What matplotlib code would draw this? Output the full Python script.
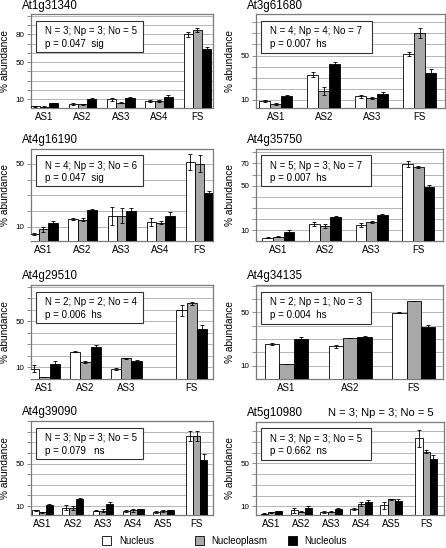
import numpy as np
import matplotlib
matplotlib.use('Agg')
import matplotlib.pyplot as plt
from matplotlib.patches import Rectangle

plt.rcParams['font.family'] = ['Liberation Sans', 'DejaVu Sans']

# ---------------- data ----------------
p1_title = 'At1g31340'
p1_cats = ['AS1', 'AS2', 'AS3', 'AS4', 'FS']
p1_nucleus = [2.4, 4.6, 9.7, 8.2, 80.0]
p1_nucleus_err = [0.6, 0.8, 1.2, 1.2, 3.0]
p1_nucleoplasm = [1.7, 4.3, 6.4, 7.8, 84.3]
p1_nucleoplasm_err = [0.4, 0.8, 0.6, 0.8, 2.2]
p1_nucleolus = [5.7, 10.0, 11.8, 12.2, 64.0]
p1_nucleolus_err = [0.5, 0.8, 1.0, 1.8, 2.5]
p1_stats = 'N = 3; Np = 3; No = 5'
p1_p = 'p = 0.047  sig'
p1_ylabels = ['10', '50', '80']

p2_title = 'At3g61680'
p2_cats = ['AS1', 'AS2', 'AS3', 'FS']
p2_nucleus = [8.5, 32.6, 13.0, 51.5]
p2_nucleus_err = [0.8, 2.4, 1.0, 1.5]
p2_nucleoplasm = [6.1, 17.5, 11.5, 70.2]
p2_nucleoplasm_err = [0.6, 3.6, 1.2, 4.5]
p2_nucleolus = [13.6, 42.2, 15.1, 34.6]
p2_nucleolus_err = [0.8, 2.0, 1.5, 3.0]
p2_stats = 'N = 4; Np = 4; No = 7'
p2_p = 'p = 0.007  hs'
p2_ylabels = ['10', '50']

p3_title = 'At4g16190'
p3_cats = ['AS1', 'AS2', 'AS3', 'AS4', 'FS']
p3_nucleus = [5.3, 14.9, 16.9, 12.8, 51.3]
p3_nucleus_err = [0.7, 0.7, 5.6, 2.5, 5.0]
p3_nucleoplasm = [8.3, 14.5, 16.9, 12.4, 50.0]
p3_nucleoplasm_err = [1.5, 0.7, 4.8, 1.0, 5.5]
p3_nucleolus = [12.2, 20.7, 20.0, 17.0, 31.4]
p3_nucleolus_err = [1.5, 0.7, 2.0, 2.0, 1.5]
p3_stats = 'N = 4; Np = 3; No = 6'
p3_p = 'p = 0.047  sig'
p3_ylabels = ['10', '50']

p4_title = 'At4g35750'
p4_cats = ['AS1', 'AS2', 'AS3', 'FS']
p4_nucleus = [3.1, 15.4, 14.5, 69.4]
p4_nucleus_err = [0.3, 1.5, 2.0, 3.0]
p4_nucleoplasm = [4.0, 13.6, 17.5, 67.0]
p4_nucleoplasm_err = [0.3, 1.5, 1.0, 1.0]
p4_nucleolus = [8.5, 21.7, 23.2, 48.7]
p4_nucleolus_err = [1.5, 0.5, 1.0, 2.0]
p4_stats = 'N = 5; Np = 3; No = 7'
p4_p = 'p = 0.007  hs'
p4_ylabels = ['10', '50', '70']

p5_title = 'At4g29510'
p5_cats = ['AS1', 'AS2', 'AS3', 'FS']
p5_nucleus = [8.6, 23.2, 8.0, 59.7]
p5_nucleus_err = [2.9, 0.5, 1.0, 4.8]
p5_nucleoplasm = [1.2, 14.7, 17.6, 65.6]
p5_nucleoplasm_err = [0.3, 1.0, 0.5, 1.5]
p5_nucleolus = [12.6, 27.5, 15.3, 43.1]
p5_nucleolus_err = [2.5, 2.0, 0.5, 3.5]
p5_stats = 'N = 2; Np = 2; No = 4'
p5_p = 'p = 0.006  hs'
p5_ylabels = ['10', '50']

p6_title = 'At4g34135'
p6_cats = ['AS1', 'AS2', 'FS']
p6_nucleus = [26.2, 24.4, 49.8]
p6_nucleus_err = [0.5, 1.0, 0.3]
p6_nucleoplasm = [11.0, 30.7, 58.5]
p6_nucleoplasm_err = [0.0, 0.0, 0.0]
p6_nucleolus = [29.9, 31.6, 39.1]
p6_nucleolus_err = [1.5, 0.5, 1.0]
p6_stats = 'N = 2; Np = 1; No = 3'
p6_p = 'p = 0.004  hs'
p6_ylabels = ['10', '50']

p7_title = 'At4g39090'
p7_cats = ['AS1', 'AS2', 'AS3', 'AS4', 'AS5', 'FS']
p7_nucleus = [6.0, 8.4, 5.6, 5.3, 4.4, 75.9]
p7_nucleus_err = [0.6, 2.5, 0.5, 0.8, 0.5, 5.0]
p7_nucleoplasm = [4.1, 8.4, 5.6, 6.0, 5.0, 75.9]
p7_nucleoplasm_err = [0.3, 2.0, 1.2, 1.2, 1.0, 5.0]
p7_nucleolus = [10.9, 16.3, 11.9, 7.2, 6.0, 53.1]
p7_nucleolus_err = [0.8, 1.0, 2.0, 0.5, 0.5, 5.5]
p7_stats = 'N = 3; Np = 3; No = 5'
p7_p = 'p = 0.079   ns'
p7_ylabels = ['10', '50']

p8_title = 'At5g10980'
p8_cats = ['AS1', 'AS2', 'AS3', 'AS4', 'AS5', 'FS']
p8_nucleus = [3.2, 6.3, 5.0, 7.5, 10.9, 73.4]
p8_nucleus_err = [0.3, 2.0, 0.8, 1.0, 3.5, 7.8]
p8_nucleoplasm = [4.4, 5.0, 5.0, 12.5, 16.6, 60.9]
p8_nucleoplasm_err = [0.5, 0.3, 0.3, 2.0, 0.5, 1.5]
p8_nucleolus = [5.6, 8.4, 7.5, 14.0, 15.0, 54.0]
p8_nucleolus_err = [0.5, 2.0, 1.0, 2.0, 2.0, 4.0]
p8_stats = 'N = 3; Np = 3; No = 5'
p8_p = 'p = 0.662  ns'
p8_ylabels = ['10', '50']
p8_header = 'N = 3; Np = 3; No = 5'

series_names = ['Nucleus', 'Nucleoplasm', 'Nucleolus']

# ---------------- figure ----------------
W, H = 446, 548
fig = plt.figure(figsize=(W / 100, H / 100), dpi=100)

GRAY = '#a8a8a8'
SPINE = '#7a7a7a'
GRID = '#a9a9a9'


def add_axes_px(x0, y0, x1, y1):
    return fig.add_axes([x0 / W, 1 - y1 / H, (x1 - x0) / W, (y1 - y0) / H])


def draw(ax, cats, nuc, nuc_e, npl, npl_e, nol, nol_e, title, stats, pline,
         ylabels, ylim, xlim, fs_shift=0.0, width=0.24):
    x = np.arange(len(cats), dtype=float)
    x[-1] += fs_shift
    ax.set_xlim(*xlim)
    ax.set_ylim(*ylim)
    for off, vals, errs, col in [(-width, nuc, nuc_e, 'white'),
                                 (0.0, npl, npl_e, GRAY),
                                 (width, nol, nol_e, 'black')]:
        ax.bar(x + off, vals, width, color=col, edgecolor='black',
               linewidth=0.6, zorder=3)
        ax.errorbar(x + off, vals, yerr=errs, fmt='none', ecolor='black',
                    elinewidth=0.6, capsize=1.4, capthick=0.6, zorder=4)
    grid = np.arange(10, ylim[1], 10)
    ax.set_yticks(grid)
    ax.set_yticklabels([str(int(g)) if str(int(g)) in ylabels else ''
                        for g in grid])
    ax.yaxis.grid(True, color=GRID, linewidth=0.6, zorder=0)
    ax.set_axisbelow(True)
    ax.set_xticks(x)
    ax.set_xticklabels(cats, fontsize=7)
    ax.tick_params(axis='x', length=0, pad=3)
    ax.tick_params(axis='y', length=3, width=0.6, color=SPINE,
                   labelsize=5.8, pad=1.5)
    for s in ax.spines.values():
        s.set_color(SPINE)
        s.set_linewidth(0.9)
    ax.set_ylabel('% abundance', fontsize=7.3)
    bb = ax.get_position()
    ax.yaxis.set_label_coords(-21 / (bb.width * W), 0.5)
    ax.text(-9 / (bb.width * W), 1 + 5.5 / (bb.height * H), title,
            transform=ax.transAxes, fontsize=8.3, ha='left', va='baseline')
    ax.add_patch(Rectangle((0.03, 0.59), 0.585, 0.335, transform=ax.transAxes,
                           facecolor='white', edgecolor='#333333',
                           linewidth=0.8, zorder=6))
    ax.text(0.078, 0.815, stats, transform=ax.transAxes, fontsize=7,
            va='center', ha='left', zorder=7)
    ax.text(0.078, 0.68, pline, transform=ax.transAxes, fontsize=7,
            va='center', ha='left', zorder=7)


ax1 = add_axes_px(31, 14, 213, 107.5)
draw(ax1, p1_cats, p1_nucleus, p1_nucleus_err, p1_nucleoplasm,
     p1_nucleoplasm_err, p1_nucleolus, p1_nucleolus_err, p1_title, p1_stats,
     p1_p, p1_ylabels, (1, 102), (-0.35, 4.41), width=0.24)

ax2 = add_axes_px(255.5, 14, 444.5, 108)
draw(ax2, p2_cats, p2_nucleus, p2_nucleus_err, p2_nucleoplasm,
     p2_nucleoplasm_err, p2_nucleolus, p2_nucleolus_err, p2_title, p2_stats,
     p2_p, p2_ylabels, (2.5, 87.6), (-0.425, 3.52), width=0.23)

ax3 = add_axes_px(31, 148.5, 212.5, 241)
draw(ax3, p3_cats, p3_nucleus, p3_nucleus_err, p3_nucleoplasm,
     p3_nucleoplasm_err, p3_nucleolus, p3_nucleolus_err, p3_title, p3_stats,
     p3_p, p3_ylabels, (0.8, 59.8), (-0.32, 4.33), width=0.24)

ax4 = add_axes_px(255.5, 148.5, 443, 241)
draw(ax4, p4_cats, p4_nucleus, p4_nucleus_err, p4_nucleoplasm,
     p4_nucleoplasm_err, p4_nucleolus, p4_nucleolus_err, p4_title, p4_stats,
     p4_p, p4_ylabels, (0.1, 83.5), (-0.49, 3.53), width=0.23)

ax5 = add_axes_px(31, 285, 213, 378.5)
draw(ax5, p5_cats, p5_nucleus, p5_nucleus_err, p5_nucleoplasm,
     p5_nucleoplasm_err, p5_nucleolus, p5_nucleolus_err, p5_title, p5_stats,
     p5_p, p5_ylabels, (0, 81.6), (-0.33, 4.12), fs_shift=0.6, width=0.25)

ax6 = add_axes_px(255.5, 285, 443, 379)
draw(ax6, p6_cats, p6_nucleus, p6_nucleus_err, p6_nucleoplasm,
     p6_nucleoplasm_err, p6_nucleolus, p6_nucleolus_err, p6_title, p6_stats,
     p6_p, p6_ylabels, (0, 70.4), (-0.49, 2.46), width=0.225)

ax7 = add_axes_px(31, 420.5, 213, 515)
draw(ax7, p7_cats, p7_nucleus, p7_nucleus_err, p7_nucleoplasm,
     p7_nucleoplasm_err, p7_nucleolus, p7_nucleolus_err, p7_title, p7_stats,
     p7_p, p7_ylabels, (1.6, 90.6), (-0.38, 5.64), fs_shift=0.1, width=0.23)

ax8 = add_axes_px(255.5, 421.5, 443.5, 514.5)
draw(ax8, p8_cats, p8_nucleus, p8_nucleus_err, p8_nucleoplasm,
     p8_nucleoplasm_err, p8_nucleolus, p8_nucleolus_err, p8_title, p8_stats,
     p8_p, p8_ylabels, (2.5, 89), (-0.53, 5.75), fs_shift=0.17, width=0.24)
ax8.text(0.948, 1 + 5.5 / (ax8.get_position().height * H), p8_header,
         transform=ax8.transAxes, fontsize=8, ha='right', va='baseline')

# ---------------- legend ----------------
leg_colors = ['white', GRAY, 'black']
leg_box_x = [102, 194.5, 287.5]
for name, col, bx in zip(series_names, leg_colors, leg_box_x):
    fig.patches.append(Rectangle((bx / W, 1 - 545 / H), 9 / W, 9 / H,
                                 transform=fig.transFigure, facecolor=col,
                                 edgecolor='black', linewidth=0.6))
    fig.text((bx + 17) / W, 1 - 540.5 / H, name, fontsize=7,
             ha='left', va='center')

fig.savefig('out.png', dpi=100, facecolor='white')
